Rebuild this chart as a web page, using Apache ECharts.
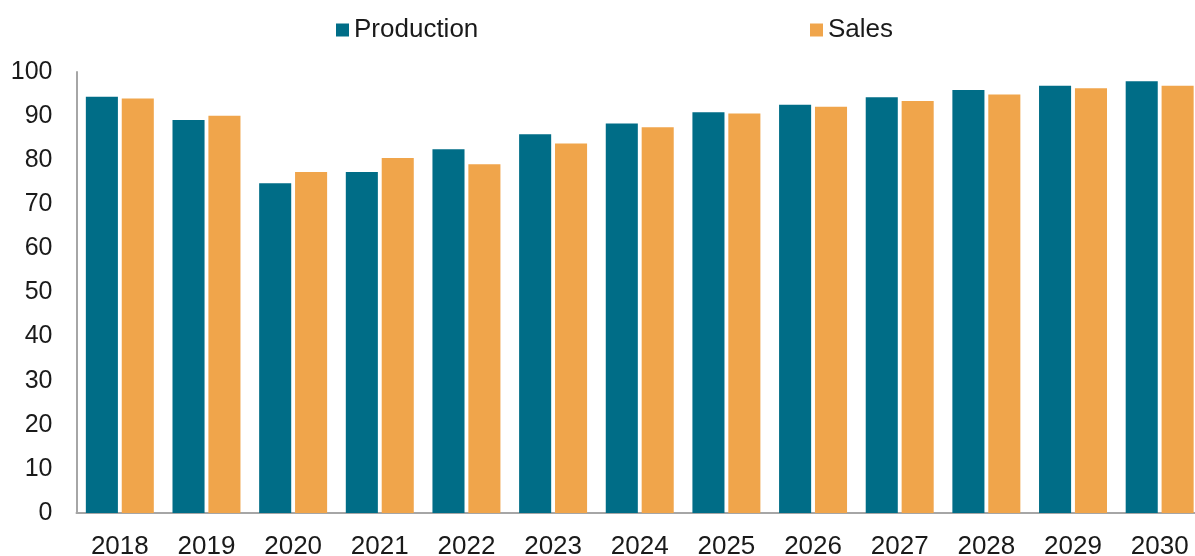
<!DOCTYPE html>
<html>
<head>
<meta charset="utf-8">
<script src="https://cdn.jsdelivr.net/npm/echarts@6/dist/echarts.min.js"></script>
<style>
  html, body { margin: 0; padding: 0; background: #fff; }
  #chart { width: 1195px; height: 556px; }
</style>
</head>
<body>
<div id="chart"></div>
<script>
const years = ['2018', '2019', '2020', '2021', '2022', '2023', '2024', '2025', '2026', '2027', '2028', '2029', '2030'];
const production = [94.4, 89.1, 74.8, 77.3, 82.5, 85.9, 88.3, 90.9, 92.6, 94.3, 95.9, 96.9, 97.9];
const sales = [94.0, 90.1, 77.3, 80.5, 79.1, 83.8, 87.5, 90.6, 92.1, 93.4, 94.9, 96.3, 96.9];
const colors = ['#006d87', '#f0a54b'];

const chart = echarts.init(document.getElementById('chart'));
const font = 'Liberation Sans, Arial, sans-serif';

const legendBase = {
  top: 12,
  icon: 'rect',
  itemWidth: 13,
  itemHeight: 13,
  textStyle: { fontFamily: font, fontSize: 26, color: '#1a1a1a' }
};

chart.setOption({
  color: colors,
  animation: false,
  legend: [
    Object.assign({ data: ['Production'], left: 331 }, legendBase),
    Object.assign({ data: ['Sales'], left: 805 }, legendBase)
  ],
  // plot area runs a few px past the right edge, as in the original
  grid: { left: 76.5, right: -8, top: 72, bottom: 43, containLabel: false, outerBoundsMode: 'none' },
  xAxis: {
    type: 'category',
    data: years,
    axisLine: { lineStyle: { color: '#a6a6a6', width: 2 } },
    axisTick: { show: false },
    axisLabel: { fontFamily: font, fontSize: 26, color: '#1a1a1a', margin: 21 }
  },
  yAxis: {
    type: 'value',
    min: 0,
    max: 100,
    interval: 10,
    axisLine: { show: true, lineStyle: { color: '#a6a6a6', width: 2 } },
    axisTick: { show: false },
    splitLine: { show: false },
    axisLabel: { fontFamily: font, fontSize: 25, color: '#1a1a1a', margin: 24 }
  },
  series: [
    { name: 'Production', type: 'bar', data: production, barWidth: '37%', barGap: '12%' },
    { name: 'Sales', type: 'bar', data: sales, barWidth: '37%', barGap: '12%' }
  ]
});
</script>
</body>
</html>
